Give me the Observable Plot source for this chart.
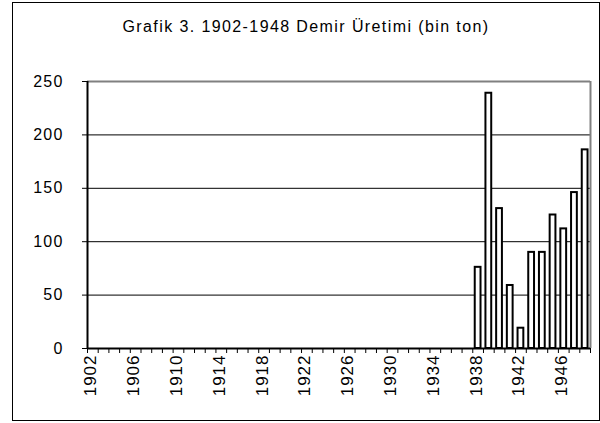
<!DOCTYPE html>
<html>
<head>
<meta charset="utf-8">
<script src="https://cdn.jsdelivr.net/npm/d3@7"></script>
<script src="https://cdn.jsdelivr.net/npm/@observablehq/plot@0.6"></script>
<style>
  html, body { margin: 0; padding: 0; background: #fff; }
  #frame {
    position: absolute; left: 12px; top: 2px; width: 588px; height: 419px;
    border: 1px solid #000; box-sizing: border-box; z-index: 5; pointer-events: none;
  }
  #title {
    position: absolute; left: 12px; top: 18px; width: 588px; text-align: center;
    font-family: "Liberation Sans", Arial, sans-serif; font-size: 16px; letter-spacing: 1.4px; color: #000;
  }
  #chart { position: absolute; left: 0; top: 50px; }
  #chart svg { overflow: visible; background: transparent; }
  #chart svg g[aria-label="x-axis tick label"] { font-size: 17px; letter-spacing: 1px; }
  #chart svg g[aria-label="y-axis tick label"] { font-size: 16px; letter-spacing: 1.2px; }
</style>
</head>
<body>
<div id="title">Grafik 3. 1902-1948 Demir Üretimi (bin ton)</div>
<div id="chart"></div>
<div id="frame"></div>
<script>
const years = d3.range(1902, 1949);
const values = [
  0,0,0,0,0,0,0,0,0,0, // 1902-1911
  0,0,0,0,0,0,0,0,0,0, // 1912-1921
  0,0,0,0,0,0,0,0,0,0, // 1922-1931
  0,0,0,0,0,0,         // 1932-1937
  76, 239, 131, 59, 19, 90, 90, 125, 112, 146, 186 // 1938-1948
];
const labelYears = [1902,1906,1910,1914,1918,1922,1926,1930,1934,1938,1942,1946];
const yTicks = [0, 50, 100, 150, 200, 250];

const data = years.map((y, i) => ({year: y, value: values[i]}));
const bars = data.filter(d => d.value > 0);

const W = 600, H = 373;
const mL = 87, mR = 10, mT = 31, mB = 75;
const step = (W - mL - mR) / years.length;

const font = '"Liberation Sans", Arial, sans-serif';

const plot = Plot.plot({
  width: W, height: H,
  marginLeft: mL, marginRight: mR, marginTop: mT, marginBottom: mB,
  style: {fontFamily: font, fontSize: "15px", letterSpacing: "1.2px", color: "#000", background: "transparent", overflow: "visible"},
  x: {type: "band", domain: years, paddingInner: 0.46, paddingOuter: 0.23, label: null},
  y: {domain: [0, 250], label: null},
  marks: [
    Plot.gridY([50, 100, 150, 200], {stroke: "#000", strokeOpacity: 1, strokeWidth: 1}),
    Plot.ruleY([250], {stroke: "#808080", strokeWidth: 2}),
    Plot.ruleX([1948], {dx: step / 2, y1: 0, y2: 250, stroke: "#808080", strokeWidth: 2}),
    Plot.barY(bars, {x: "year", y: "value", fill: "#fff", stroke: "#000", strokeWidth: 2}),
    Plot.axisY({ticks: yTicks, tickSize: 5, tickPadding: 19, stroke: "#000", fontSize: 16}),
    Plot.axisX({ticks: years, tickSize: 5, text: null, dx: -step / 2, stroke: "#000"}),
    Plot.axisX({ticks: [1948], tickSize: 5, text: null, dx: step / 2, stroke: "#000"}),
    Plot.axisX({ticks: labelYears, tickSize: 0, tickPadding: 6, tickRotate: -90, fontSize: 17, dx: -2, tickFormat: d => String(d)}),
    Plot.ruleX([1902], {dx: -step / 2, y1: 0, y2: 250, stroke: "#000", strokeWidth: 2}),
    Plot.ruleY([0], {stroke: "#000", strokeWidth: 2})
  ]
});
document.getElementById("chart").appendChild(plot);
</script>
</body>
</html>
